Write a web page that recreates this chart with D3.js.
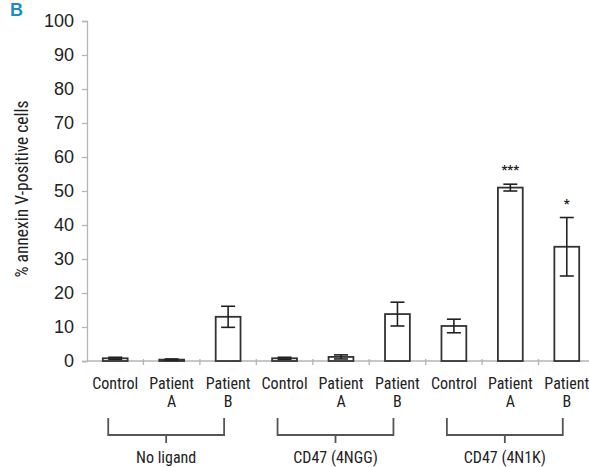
<!DOCTYPE html>
<html>
<head>
<meta charset="utf-8">
<script src="https://cdn.jsdelivr.net/npm/d3@7"></script>
<style>
  body{margin:0;background:#fff;}
  svg text{font-family:"Liberation Sans Narrow","Arial Narrow","Roboto Condensed",sans-serif;fill:#222;}
</style>
</head>
<body>
<svg id="chart" width="589" height="467"></svg>
<script>
// data
var categories=["NL-Control","NL-PatientA","NL-PatientB","NGG-Control","NGG-PatientA","NGG-PatientB","N1K-Control","N1K-PatientA","N1K-PatientB"];
var catLines=[["Control"],["Patient","A"],["Patient","B"],["Control"],["Patient","A"],["Patient","B"],["Control"],["Patient","A"],["Patient","B"]];
var means=[0.8,0.4,13,0.8,1.2,13.8,10.3,51,33.6];
var errors=[0.3,0.2,3.1,0.3,0.6,3.5,2,1,8.6];
var stars=["","","","","","","","***","*"];
var groups=["No ligand","CD47 (4NGG)","CD47 (4N1K)"];
var groupMembers=[[0,2],[3,5],[6,8]];
var yTicks=[0,10,20,30,40,50,60,70,80,90,100];

const margin={top:21,left:87,right:-6,bottom:106};
var svg=d3.select("#chart");
var width=589, height=467;

var x=d3.scaleBand()
    .domain(categories)
    .range([margin.left,width-margin.right])
    .paddingInner(0.56)
    .paddingOuter(0.28);
var y=d3.scaleLinear()
    .domain([0,100])
    .range([height-margin.bottom,margin.top]);

// panel letter
svg.append("text")
    .attr("x",10).attr("y",16)
    .style("font-family","'Liberation Sans',Arial,sans-serif")
    .style("font-weight","bold")
    .style("font-size","18px")
    .style("fill","#1b8dc4")
    .text("B");

// y axis
var yAxis=svg.append("g")
    .attr("transform","translate("+margin.left+",0)")
    .call(d3.axisLeft(y).tickValues(yTicks).tickSize(5).tickPadding(8));
yAxis.select(".domain").attr("stroke","#b5b5b5").attr("stroke-width",1.3);
yAxis.selectAll(".tick line").attr("stroke","#b5b5b5").attr("stroke-width",1.3);
yAxis.selectAll(".tick text")
    .style("font-size","18px")
    .style("font-family","'Liberation Sans Narrow','Arial Narrow',sans-serif")
    .attr("fill","#222");

// x axis line with ticks at band boundaries
var step=x.step();
var x0=y(0);
svg.append("line")
    .attr("x1",margin.left).attr("x2",width)
    .attr("y1",x0).attr("y2",x0)
    .attr("stroke","#b5b5b5").attr("stroke-width",1.3);
var bounds=categories.map(function(c){return x(c)+(x.bandwidth()+step)/2;});
svg.selectAll("line.xt").data(bounds).enter().append("line")
    .attr("class","xt")
    .attr("x1",d=>d).attr("x2",d=>d)
    .attr("y1",x0-2).attr("y2",x0+4)
    .attr("stroke","#b5b5b5").attr("stroke-width",1.3);

// bars
svg.selectAll("rect.bar").data(categories).enter().append("rect")
    .attr("class","bar")
    .attr("x",d=>x(d))
    .attr("width",x.bandwidth())
    .attr("y",(d,i)=>y(means[i]))
    .attr("height",(d,i)=>y(0)-y(means[i]))
    .attr("fill","#fff")
    .attr("stroke","#333")
    .attr("stroke-width",1.8);

// error bars
var cap=7;
var eb=svg.selectAll("g.err").data(categories).enter().append("g").attr("class","err");
eb.append("line")
    .attr("x1",d=>x(d)+x.bandwidth()/2).attr("x2",d=>x(d)+x.bandwidth()/2)
    .attr("y1",(d,i)=>y(means[i]+errors[i])).attr("y2",(d,i)=>y(means[i]-errors[i]));
eb.append("line")
    .attr("x1",d=>x(d)+x.bandwidth()/2-cap).attr("x2",d=>x(d)+x.bandwidth()/2+cap)
    .attr("y1",(d,i)=>y(means[i]+errors[i])).attr("y2",(d,i)=>y(means[i]+errors[i]));
eb.append("line")
    .attr("x1",d=>x(d)+x.bandwidth()/2-cap).attr("x2",d=>x(d)+x.bandwidth()/2+cap)
    .attr("y1",(d,i)=>y(means[i]-errors[i])).attr("y2",(d,i)=>y(means[i]-errors[i]));
eb.selectAll("line").attr("stroke","#222").attr("stroke-width",1.6);

// significance stars
svg.selectAll("text.star").data(categories).enter().append("text")
    .attr("class","star")
    .attr("x",d=>x(d)+x.bandwidth()/2)
    .attr("y",(d,i)=>y(means[i]+errors[i])-10)
    .attr("text-anchor","middle")
    .style("font-size","13px")
    .style("font-weight","bold")
    .text((d,i)=>stars[i]);

// category labels
var cl=svg.selectAll("text.cat").data(categories).enter().append("text")
    .attr("class","cat")
    .attr("text-anchor","middle")
    .style("font-size","16px");
cl.each(function(d,i){
    var t=d3.select(this);
    catLines[i].forEach(function(s,j){
        t.append("tspan")
            .attr("x",x(d)+x.bandwidth()/2)
            .attr("y",389+j*18)
            .text(s);
    });
});

// group brackets
var br=svg.selectAll("g.bracket").data(groups).enter().append("g").attr("class","bracket");
br.each(function(g,i){
    var a=x(categories[groupMembers[i][0]])+x.bandwidth()/2-7;
    var b=x(categories[groupMembers[i][1]])+x.bandwidth()/2-4;
    var m=(a+b)/2;
    var s=d3.select(this);
    s.append("path")
        .attr("d","M"+a+",418V435H"+b+"V418")
        .attr("fill","none").attr("stroke","#555").attr("stroke-width",1.8);
    s.append("line")
        .attr("x1",m).attr("x2",m).attr("y1",435).attr("y2",443)
        .attr("stroke","#555").attr("stroke-width",1.8);
    s.append("text")
        .attr("x",m).attr("y",463)
        .attr("text-anchor","middle")
        .style("font-size","16px")
        .text(g);
});

// y axis title
svg.append("text")
    .attr("transform","translate(28,"+(y(50)-2)+") rotate(-90)")
    .attr("text-anchor","middle")
    .style("font-size","17.5px")
    .text("% annexin V-positive cells");
</script>
</body>
</html>
